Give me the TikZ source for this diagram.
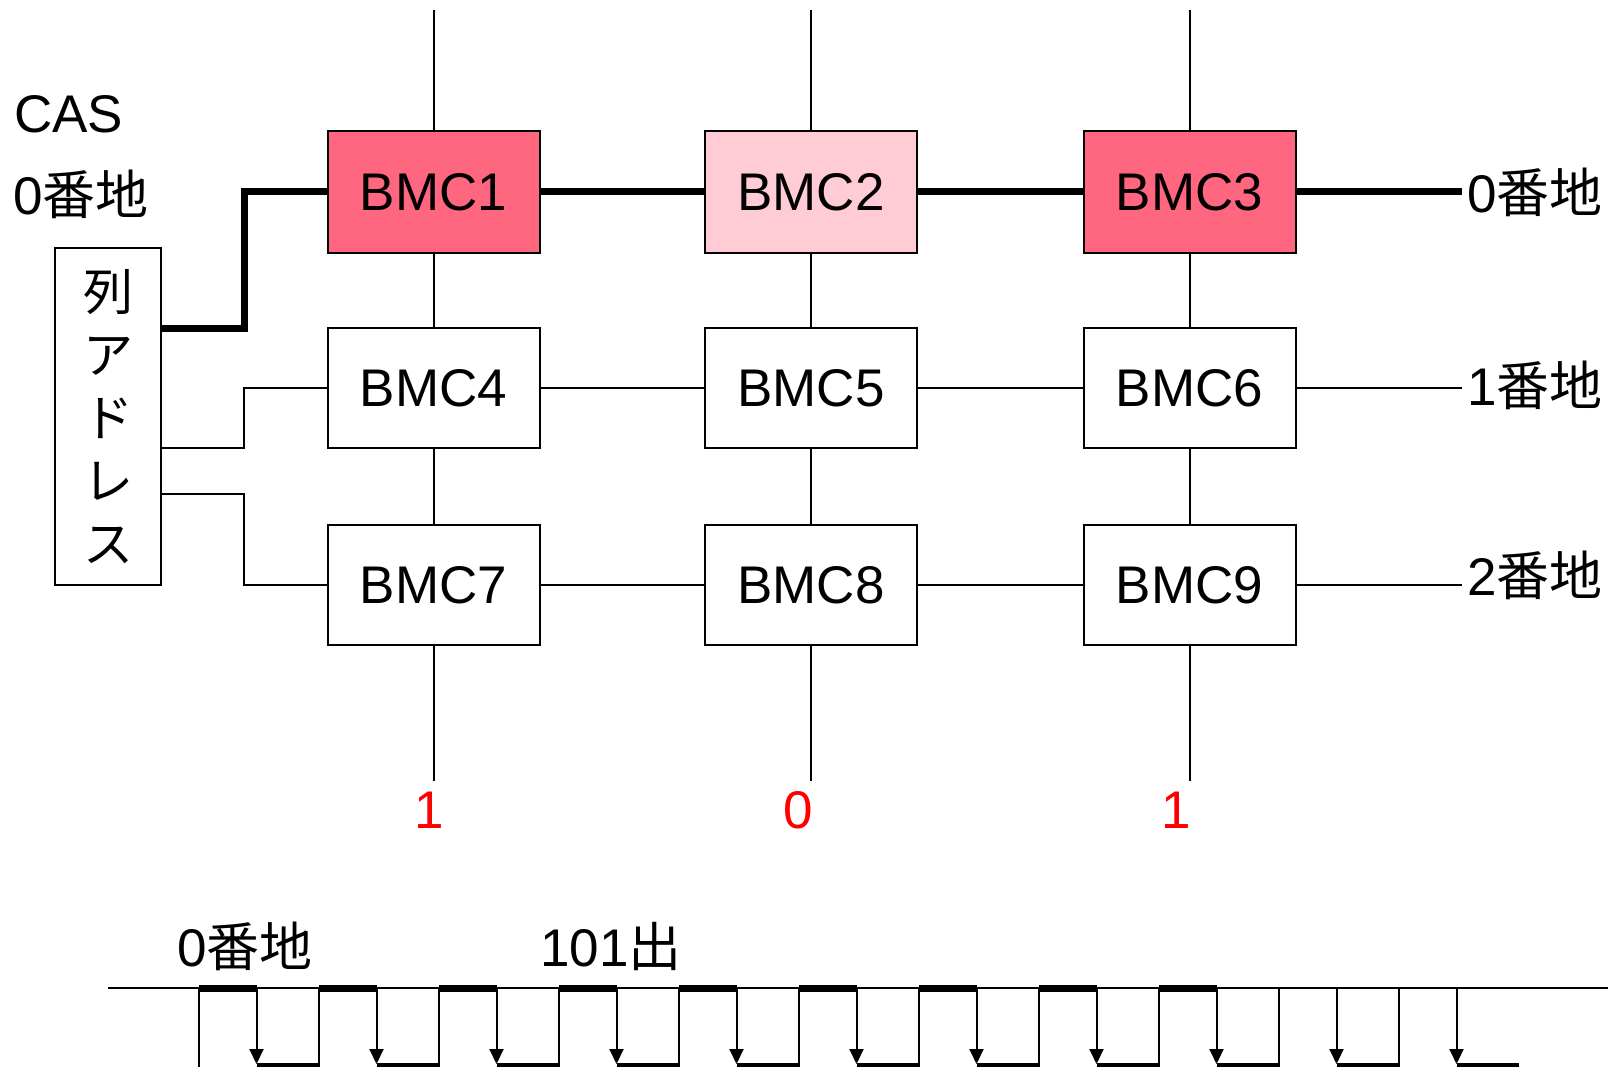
\documentclass[tikz,border=0pt]{standalone}
\usepackage{fontspec}
\setmainfont{Liberation Sans}
\newfontfamily\cjk{Noto Sans CJK JP}
\usetikzlibrary{arrows.meta}
\definecolor{hot}{RGB}{255,102,128}
\definecolor{warm}{RGB}{255,204,213}
\begin{document}
\begin{tikzpicture}[x=1pt,y=-1pt,
  cell/.style={draw,line width=2pt,minimum width=212pt,minimum height=120pt,inner sep=0pt,font=\fontsize{53}{60}\selectfont},
  thinline/.style={line width=2pt},
  heavy/.style={line width=7pt},
  lbl/.style={inner sep=0pt,font=\fontsize{53}{60}\selectfont},
  redlbl/.style={lbl,text=red,anchor=base},
]
\useasboundingbox (0,0) rectangle (1608,1067);

% cells
\node[cell,fill=hot,minimum height=122pt] (b1) at (433.5,192) {BMC1};
\node[cell,fill=warm,minimum height=122pt] (b2) at (811,192) {BMC2};
\node[cell,fill=hot,minimum height=122pt] (b3) at (1189.5,192) {BMC3};
\node[cell] (b4) at (433.5,388) {BMC4};
\node[cell] (b5) at (811,388) {BMC5};
\node[cell] (b6) at (1189.5,388) {BMC6};
\node[cell] (b7) at (433.5,585) {BMC7};
\node[cell] (b8) at (811,585) {BMC8};
\node[cell] (b9) at (1189.5,585) {BMC9};

% column address box
\node[draw,line width=2pt,minimum width=106pt,minimum height=337pt,inner sep=0pt,align=center,
      font=\cjk\fontsize{50}{63}\selectfont] (col) at (108,416.5) {列\\ア\\ド\\レ\\ス};

% texts
\node[lbl,anchor=base west] (cas) at (14,133) {CAS};
\node[lbl,anchor=base west] (addr) at (13,215) {0{\cjk 番地}};
\node[lbl,anchor=base west] (r0) at (1467,213) {0{\cjk 番地}};
\node[lbl,anchor=base west] (r1) at (1467,405) {1{\cjk 番地}};
\node[lbl,anchor=base west] (r2) at (1467,595) {2{\cjk 番地}};
\node[redlbl] (o1) at (429,828) {1};
\node[redlbl] (o2) at (798,828) {0};
\node[redlbl] (o3) at (1176.5,828) {1};
\node[lbl,anchor=base west] (w1) at (177,966) {0{\cjk 番地}};
\node[lbl,anchor=base west] (w2) at (540,966) {101{\cjk 出}};

% coordinates for free ends
\coordinate (t1) at (433.5,10);
\coordinate (t2) at (811,10);
\coordinate (t3) at (1189.5,10);
\coordinate (u1) at (433.5,781);
\coordinate (u2) at (811,781);
\coordinate (u3) at (1189.5,781);
\coordinate (e0) at (1462,192);
\coordinate (e1) at (1462,388);
\coordinate (e2) at (1462,585);
\coordinate (c0) at (161,328);
\coordinate (c1) at (161,448);
\coordinate (c2) at (161,494);

% column lines
\foreach \a/\b/\c/\t/\u in {b1/b4/b7/t1/u1, b2/b5/b8/t2/u2, b3/b6/b9/t3/u3}{
  \draw[thinline] (\t) -- (\a.north);
  \draw[thinline] (\a.south) -- (\b.north);
  \draw[thinline] (\b.south) -- (\c.north);
  \draw[thinline] (\c.south) -- (\u);
}

% row lines
\draw[heavy] (b1.east) -- (b2.west);
\draw[heavy] (b2.east) -- (b3.west);
\draw[heavy] (b3.east) -- (e0);
\draw[thinline] (b4.east) -- (b5.west);
\draw[thinline] (b5.east) -- (b6.west);
\draw[thinline] (b6.east) -- (e1);
\draw[thinline] (b7.east) -- (b8.west);
\draw[thinline] (b8.east) -- (b9.west);
\draw[thinline] (b9.east) -- (e2);

% column address feeds
\draw[heavy] (c0) -- ++(83,0) |- (b1.west);
\draw[thinline] (c1) -- ++(83,0) |- (b4.west);
\draw[thinline] (c2) -- ++(83,0) |- (b7.west);

% waveform
\draw[thinline] (108,988) -- (1608,988);
\foreach \k in {0,...,10}{
  \pgfmathsetmacro\p{199+120*\k}
  \pgfmathsetmacro\a{256.5+120*\k}
  \draw[thinline] (\p,988) -- (\p,1075);
  \draw[thinline,-{Triangle[length=15pt,width=14pt]}] (\a,988) -- (\a,1064);
  \draw[heavy] (\a,1066) -- (\a+62,1066);
}
\foreach \k in {0,...,8}{
  \pgfmathsetmacro\p{199+120*\k}
  \pgfmathsetmacro\a{256.5+120*\k}
  \draw[heavy] (\p,988.5) -- (\a,988.5);
}
\end{tikzpicture}
\end{document}
